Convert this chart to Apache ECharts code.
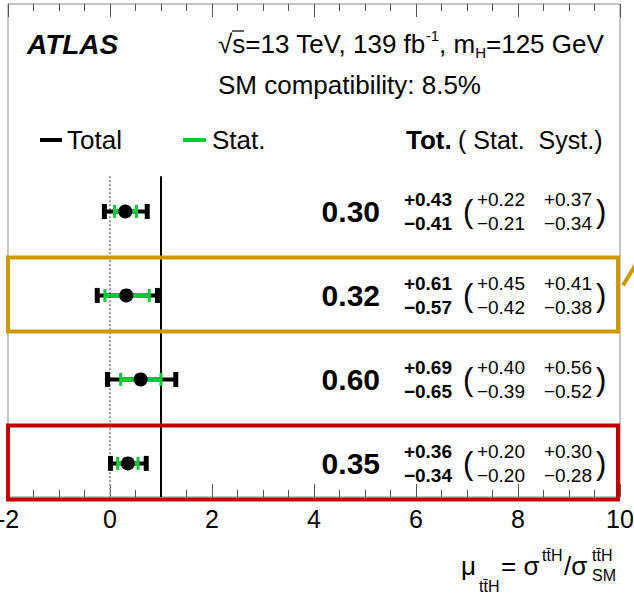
<!DOCTYPE html>
<html><head><meta charset="utf-8">
<script src="https://cdn.jsdelivr.net/npm/echarts@6/dist/echarts.min.js"></script>
<style>html,body{margin:0;padding:0;background:#fff}#c{width:634px;height:594px}</style>
</head><body><div id="c"></div>
<script>
// ---- data (top row first) ----
const rowPos   = [4, 3, 2, 1];
const muValues = [0.30, 0.32, 0.60, 0.35];
const totUp    = [0.43, 0.61, 0.69, 0.36];
const totDown  = [0.41, 0.57, 0.65, 0.34];
const statUp   = [0.22, 0.45, 0.40, 0.20];
const statDown = [0.21, 0.42, 0.39, 0.20];
const systUp   = [0.37, 0.41, 0.56, 0.30];
const systDown = [0.34, 0.38, 0.52, 0.28];
const xTickLabels = [-2, 0, 2, 4, 6, 8, 10];
const refLines = [0, 1];            // mu = 0 (dotted) and SM mu = 1 (solid)
const highlightRowPos = [3, 1];     // boxed rows
const highlightColors = ['#CC9900', '#C00000'];

const FONT = '"Liberation Sans", Arial, Helvetica, sans-serif';
const GREEN = '#00CC33';
const yMin = 0.6, yMax = 6.47, refTop = 4.42;
const fmt = v => v.toFixed(2);
const MINUS = '\u2212';

const chart = echarts.init(document.getElementById('c'), null, {renderer: 'svg'});

const barData = rowPos.map((r, i) => [muValues[i], r, totUp[i], totDown[i], statUp[i], statDown[i], systUp[i], systDown[i]]);

function txt(text, x, y, size, opts) {
  opts = opts || {};
  return {type: 'text', silent: true, z2: 20, style: {
    text: text, x: x, y: y, fill: '#000', align: opts.align || 'left', verticalAlign: 'middle',
    fontSize: size, fontWeight: opts.bold ? 'bold' : 'normal', fontStyle: opts.italic ? 'italic' : 'normal', fontFamily: FONT
  }};
}

function renderBars(params, api) {
  const mu = api.value(0), y = api.value(1);
  const p = api.coord([mu, y]);
  const cy = p[1];
  const tl = api.coord([mu - api.value(3), y])[0];
  const tr = api.coord([mu + api.value(2), y])[0];
  const sl = api.coord([mu - api.value(5), y])[0];
  const sr = api.coord([mu + api.value(4), y])[0];
  const ch = [
    {type: 'line', shape: {x1: tl, y1: cy, x2: tr, y2: cy}, style: {stroke: '#000', lineWidth: 4}},
    {type: 'rect', shape: {x: tl - 2.5, y: cy - 7.5, width: 5, height: 15}, style: {fill: '#000'}},
    {type: 'rect', shape: {x: tr - 2.5, y: cy - 7.5, width: 5, height: 15}, style: {fill: '#000'}},
    {type: 'line', shape: {x1: sl, y1: cy, x2: sr, y2: cy}, style: {stroke: GREEN, lineWidth: 3}},
    {type: 'rect', shape: {x: sl - 1.5, y: cy - 6.5, width: 3, height: 13}, style: {fill: GREEN}},
    {type: 'rect', shape: {x: sr - 1.5, y: cy - 6.5, width: 3, height: 13}, style: {fill: GREEN}},
    {type: 'circle', shape: {cx: p[0], cy: cy, r: 7}, style: {fill: '#000'}},
    txt(fmt(mu), 380, cy, 30, {bold: true, align: 'right'}),
    txt('+' + fmt(api.value(2)), 452, cy - 12, 19, {bold: true, align: 'right'}),
    txt(MINUS + fmt(api.value(3)), 452, cy + 12, 19, {bold: true, align: 'right'}),
    txt('(', 463, cy, 31),
    txt('+' + fmt(api.value(4)), 525, cy - 12, 19, {align: 'right'}),
    txt(MINUS + fmt(api.value(5)), 525, cy + 12, 19, {align: 'right'}),
    txt('+' + fmt(api.value(6)), 592, cy - 12, 19, {align: 'right'}),
    txt(MINUS + fmt(api.value(7)), 592, cy + 12, 19, {align: 'right'}),
    txt(')', 596, cy, 31)
  ];
  return {type: 'group', children: ch};
}

function renderRefLines(params, api) {
  const x = api.value(0);
  const a = api.coord([x, refTop]), b = api.coord([x, yMin]);
  const dotted = x === 0;
  return {type: 'line', shape: {x1: a[0], y1: a[1], x2: b[0], y2: b[1]},
    style: {stroke: dotted ? '#999' : '#000', lineWidth: 2, lineDash: dotted ? [2, 2] : null}};
}

function renderBoxes(params, api) {
  const y = api.value(0);
  const l = api.coord([-2, y]), r = api.coord([10, y]);
  const color = highlightColors[params.dataIndex];
  const ch = [{type: 'rect', shape: {x: l[0], y: l[1] - 38, width: r[0] - l[0] - 2, height: 74},
    style: {fill: 'none', stroke: color, lineWidth: 4}}];
  if (params.dataIndex === 0) {
    ch.push({type: 'line', shape: {x1: r[0] + 3, y1: l[1] - 10, x2: r[0] + 20, y2: l[1] - 38},
      style: {stroke: color, lineWidth: 4}});
  }
  return {type: 'group', children: ch};
}

const axisCommon = {
  type: 'value', min: -2, max: 10, interval: 2,
  axisLine: {show: false}, splitLine: {show: false},
  axisTick: {show: true, inside: true, length: 13, lineStyle: {color: '#555', width: 1}},
  minorTick: {show: true, splitNumber: 4, length: 7, lineStyle: {color: '#555', width: 1}}
};

chart.setOption({
  animation: false,
  backgroundColor: '#fff',
  grid: {left: 8, right: 14, top: 4, bottom: 97, show: true, borderColor: '#888', borderWidth: 1,
    backgroundColor: '#fff', containLabel: false, outerBoundsMode: 'none'},
  xAxis: [
    Object.assign({}, axisCommon, {position: 'bottom',
      axisLabel: {show: true, margin: 9, fontSize: 25, color: '#000', fontFamily: FONT,
        formatter: v => xTickLabels.indexOf(v) >= 0 ? String(v) : ''}}),
    Object.assign({}, axisCommon, {position: 'top', axisLabel: {show: false}})
  ],
  yAxis: {type: 'value', min: yMin, max: yMax, show: false},
  series: [
    {type: 'custom', renderItem: renderRefLines, data: refLines.map(v => [v]), encode: {x: 0}, z: 1, silent: true},
    {type: 'custom', renderItem: renderBars, data: barData, encode: {x: 0, y: 1}, z: 3, silent: true},
    {type: 'custom', renderItem: renderBoxes, data: highlightRowPos.map(v => [v]), encode: {y: 0}, z: 5, silent: true, clip: false}
  ],
  graphic: [
    {type: 'text', left: 27, top: 30, style: {text: 'ATLAS', fontSize: 28, fontWeight: 'bold', fontStyle: 'italic', fontFamily: FONT, fill: '#000'}},
    {type: 'text', left: 218, top: 28, style: {
      text: '{a|\u221As=13 TeV, 139 fb}{sup|-1}{a|, m}{sub|H}{a|=125 GeV}',
      rich: {
        a: {fontSize: 26, lineHeight: 32, fontFamily: FONT, fill: '#000'},
        sup: {fontSize: 15, lineHeight: 16, verticalAlign: 'top', fontFamily: FONT, fill: '#000'},
        sub: {fontSize: 15, lineHeight: 16, verticalAlign: 'bottom', fontFamily: FONT, fill: '#000'}
      }}},
    {type: 'line', shape: {x1: 232, y1: 31, x2: 244, y2: 31}, style: {stroke: '#000', lineWidth: 1.2}},
    {type: 'text', left: 218, top: 72, style: {text: 'SM compatibility: 8.5%', fontSize: 26, fontFamily: FONT, fill: '#000'}},
    {type: 'rect', shape: {x: 40, y: 138, width: 22, height: 4}, style: {fill: '#000'}},
    {type: 'text', left: 67, top: 127, style: {text: 'Total', fontSize: 26, fontFamily: FONT, fill: '#000'}},
    {type: 'rect', shape: {x: 183, y: 138, width: 23, height: 4}, style: {fill: GREEN}},
    {type: 'text', left: 212, top: 127, style: {text: 'Stat.', fontSize: 26, fontFamily: FONT, fill: '#000'}},
    {type: 'text', left: 406, top: 127, style: {text: 'Tot.', fontSize: 26, fontWeight: 'bold', fontFamily: FONT, fill: '#000'}},
    {type: 'text', left: 458, top: 127, style: {text: '( Stat.  Syst.)', fontSize: 25, fontFamily: FONT, fill: '#000'}},
    // axis title
    {type: 'text', left: 461, top: 553, style: {text: '\u03BC', fontSize: 26, fontFamily: FONT, fill: '#000'}},
    {type: 'text', left: 479, top: 578, style: {text: 'tt\u0304H', fontSize: 16, fontFamily: FONT, fill: '#000'}},
    {type: 'text', left: 501, top: 553, style: {text: '= \u03C3', fontSize: 26, fontFamily: FONT, fill: '#000'}},
    {type: 'text', left: 542, top: 547, style: {text: 'tt\u0304H', fontSize: 16, fontFamily: FONT, fill: '#000'}},
    {type: 'text', left: 564, top: 553, style: {text: '/\u03C3', fontSize: 26, fontFamily: FONT, fill: '#000'}},
    {type: 'text', left: 592, top: 547, style: {text: 'tt\u0304H', fontSize: 16, fontFamily: FONT, fill: '#000'}},
    {type: 'text', left: 592, top: 567, style: {text: 'SM', fontSize: 16, fontFamily: FONT, fill: '#000'}}
  ]
});
</script></body></html>
